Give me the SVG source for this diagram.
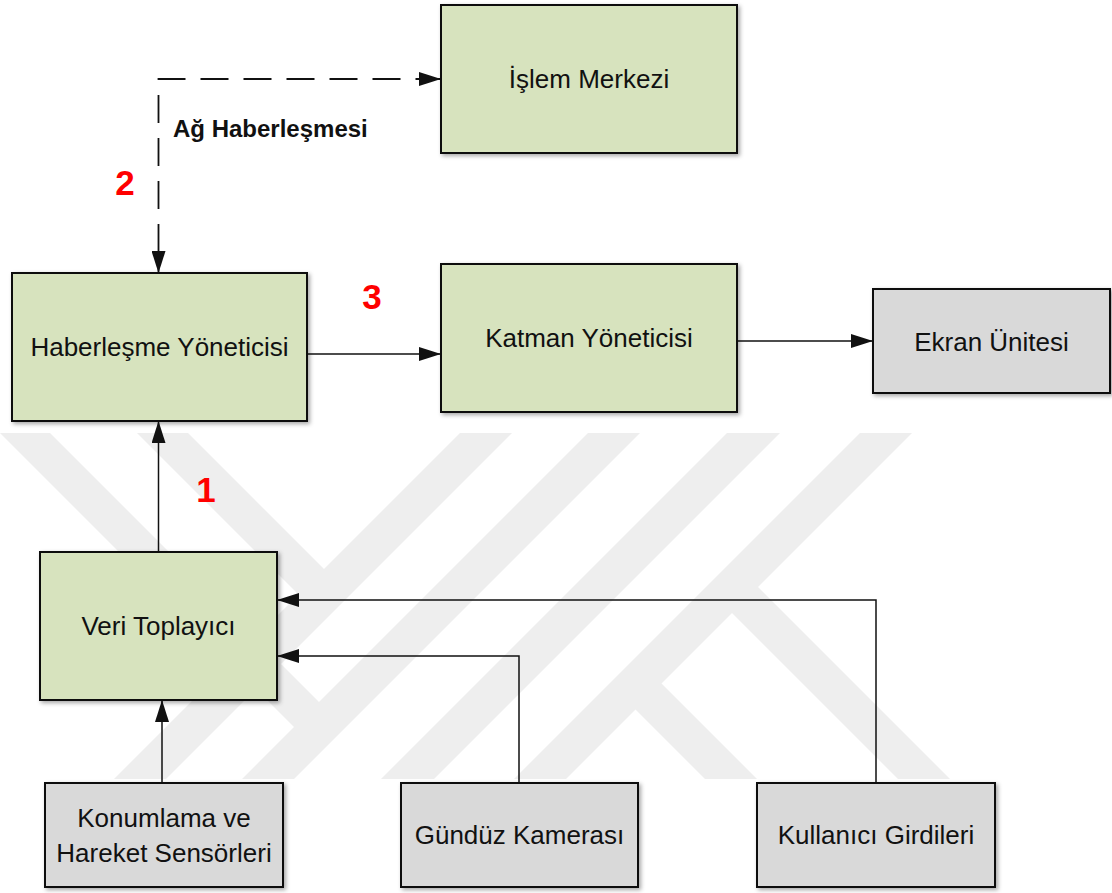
<svg xmlns="http://www.w3.org/2000/svg" width="1112" height="893" viewBox="0 0 1112 893">
  <defs>
    <style>
      .box { stroke: #111; stroke-width: 2; filter: url(#shadow); }
      .green { fill: #d7e3be; }
      .grey { fill: #d9d9d9; }
      .label { font-family: "Liberation Sans", Arial, sans-serif; font-size: 26px; fill: #111; text-anchor: middle; }
      .step { font-family: "Liberation Sans", Arial, sans-serif; font-size: 35px; font-weight: bold; fill: #ff0000; text-anchor: middle; }
      .note { font-family: "Liberation Sans", Arial, sans-serif; font-size: 24px; font-weight: bold; fill: #111; }
      .wire { fill: none; stroke: #111; stroke-width: 1.5; }
      .dash { fill: none; stroke: #111; stroke-width: 1.8; stroke-dasharray: 28 15; stroke-dashoffset: 22; }
      .mark { fill: #eeeeee; }
    </style>
    <filter id="shadow" x="-10%" y="-10%" width="125%" height="125%">
      <feDropShadow dx="2" dy="2" stdDeviation="2" flood-color="#000" flood-opacity="0.35"/>
    </filter>
    <marker id="arrow" viewBox="0 0 22 14" markerWidth="22" markerHeight="14" refX="22" refY="7" markerUnits="userSpaceOnUse" orient="auto-start-reverse">
      <path d="M0,0 L22,7 L0,14 z" fill="#111"/>
    </marker>
    <clipPath id="markClip">
      <rect x="0" y="433" width="1112" height="346"/>
    </clipPath>
  </defs>

  <rect width="1112" height="893" fill="#ffffff"/>

  <!-- faint background emblem made of diagonal stripes -->
  <g id="emblem" clip-path="url(#markClip)">
    <polygon class="mark" points="-33,400 17,400 319,702 621,400 673,400 273,800 221,800 294,727"/>
    <polygon class="mark" points="104,400 155,400 324,569 493,400 545,400 145,800 93,800 298.5,594.5"/>
    <polygon class="mark" points="760,400 813,400 413,800 360,800"/>
    <polygon class="mark" points="893,400 945,400 545,800 493,800"/>
    <polygon class="mark" points="748,577 971,800 919,800 722,603"/>
    <polygon class="mark" points="651.5,673.5 778,800 726,800 625.5,699.5"/>
  </g>

  <!-- connectors -->
  <g id="connectors">
    <path class="dash" d="M158.5,273 V79 H441" marker-start="url(#arrow)" marker-end="url(#arrow)"/>
    <path class="wire" d="M158.5,552 V421" marker-end="url(#arrow)"/>
    <path class="wire" d="M307,354 H441" marker-end="url(#arrow)"/>
    <path class="wire" d="M737,341 H873" marker-end="url(#arrow)"/>
    <path class="wire" d="M162,783 V700" marker-end="url(#arrow)"/>
    <path class="wire" d="M519,783 V656 H277" marker-end="url(#arrow)"/>
    <path class="wire" d="M876,783 V600 H277" marker-end="url(#arrow)"/>
  </g>

  <!-- step numbers and link label -->
  <g id="annotations">
    <text class="note" x="173" y="137">Ağ Haberleşmesi</text>
    <text class="step" x="125" y="195">2</text>
    <text class="step" x="372" y="309">3</text>
    <text class="step" x="206" y="502">1</text>
  </g>

  <g id="islem-merkezi">
    <rect class="box green" x="441" y="5" width="296" height="148"/>
    <text class="label" x="589" y="88">İşlem Merkezi</text>
  </g>

  <g id="haberlesme-yoneticisi">
    <rect class="box green" x="12" y="273" width="295" height="148"/>
    <text class="label" x="159.5" y="356">Haberleşme Yöneticisi</text>
  </g>

  <g id="katman-yoneticisi">
    <rect class="box green" x="441" y="264" width="296" height="148"/>
    <text class="label" x="589" y="347">Katman Yöneticisi</text>
  </g>

  <g id="ekran-unitesi">
    <rect class="box grey" x="873" y="289" width="237" height="104"/>
    <text class="label" x="991.5" y="351">Ekran Ünitesi</text>
  </g>

  <g id="veri-toplayici">
    <rect class="box green" x="40" y="552" width="237" height="148"/>
    <text class="label" x="158.5" y="635">Veri Toplayıcı</text>
  </g>

  <g id="konumlama">
    <rect class="box grey" x="45" y="783" width="238" height="104"/>
    <text class="label" x="164" y="827">Konumlama ve</text>
    <text class="label" x="164" y="862">Hareket Sensörleri</text>
  </g>

  <g id="gunduz-kamerasi">
    <rect class="box grey" x="401" y="783" width="237" height="104"/>
    <text class="label" x="519.5" y="844">Gündüz Kamerası</text>
  </g>

  <g id="kullanici-girdileri">
    <rect class="box grey" x="757" y="783" width="238" height="104"/>
    <text class="label" x="876" y="844">Kullanıcı Girdileri</text>
  </g>
</svg>
